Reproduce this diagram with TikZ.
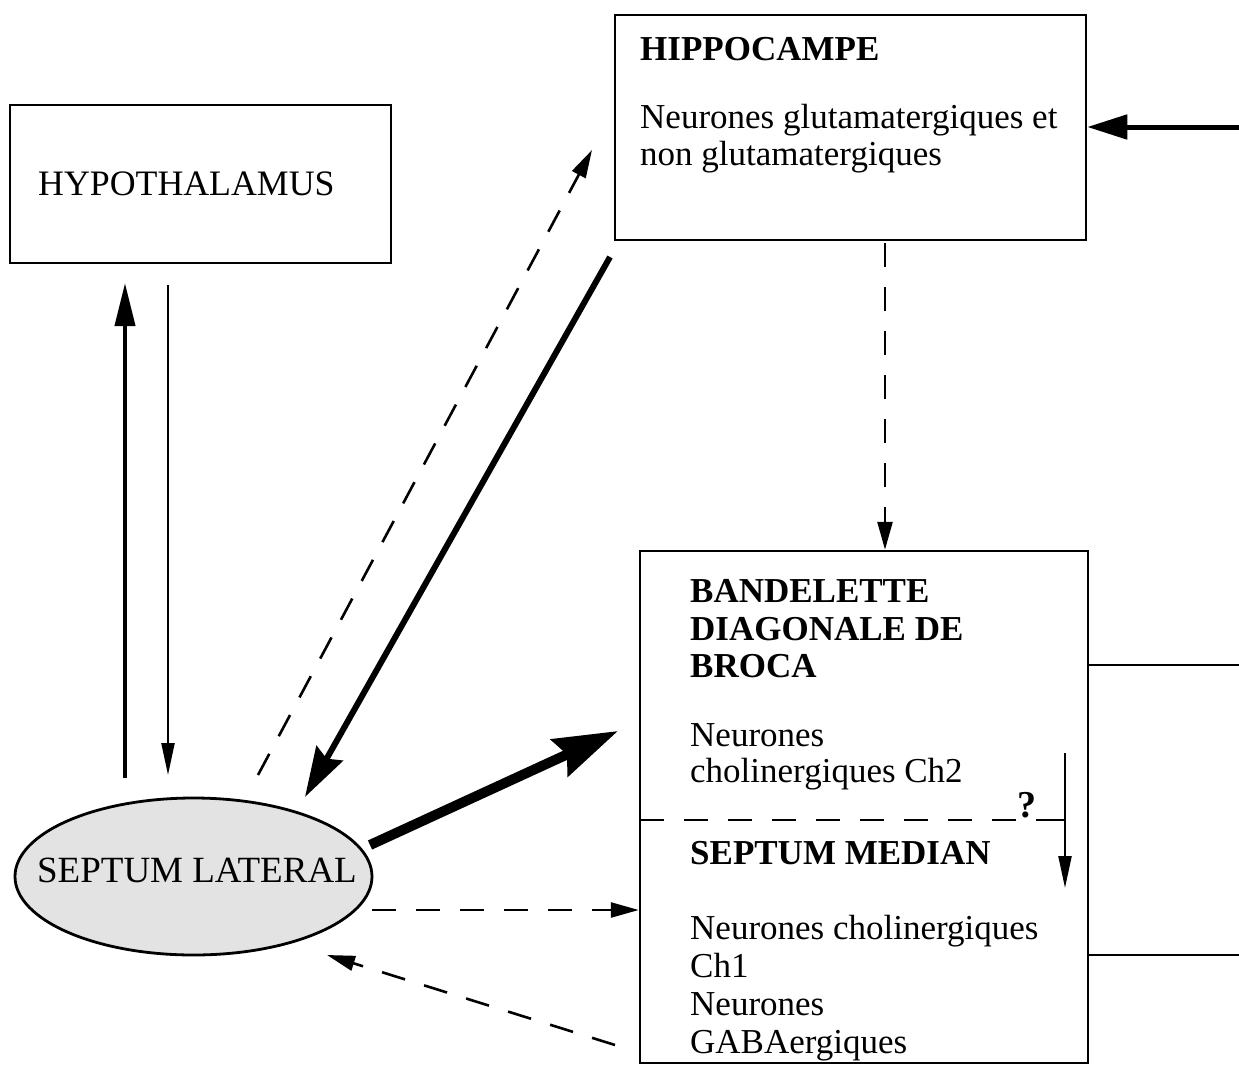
\documentclass[tikz,border=0pt]{standalone}
\usepackage{fontspec}
\setmainfont{Liberation Serif}
\usetikzlibrary{arrows.meta,shapes.geometric,calc}
\begin{document}
\begin{tikzpicture}[x=1pt,y=-1pt,
  box/.style={draw, line width=2.5pt, inner sep=0pt},
  lbl/.style={anchor=base west, inner sep=0pt, font=\fontsize{35}{37.5}\selectfont},
  blbl/.style={anchor=base west, inner sep=0pt, font=\fontsize{35}{37.5}\selectfont\bfseries},
  dsh/.style={line width=2.6pt, dash pattern=on 24pt off 20pt},
  dtip/.style={-{Triangle[length=28pt,width=15pt]}},
  thinarrow/.style={line width=2.2pt, -{Triangle[length=32pt,width=13pt]}},
  medarrow/.style={line width=4pt, -{Triangle[length=43pt,width=20pt]}},
  thickarrow/.style={line width=6pt, -{Stealth[length=50pt,width=30pt,inset=6pt]}},
  heavyarrow/.style={line width=10pt, -{Stealth[length=64pt,width=40pt,inset=8pt]}},
  plain/.style={line width=2.2pt}
]
\useasboundingbox (0,0) rectangle (1239,1065);

% boxes
\node[box, minimum width=381pt, minimum height=158pt] (hypo) at (200.5,184) {};
\node[box, minimum width=471pt, minimum height=225pt] (hipp) at (850.5,127.5) {};
\node[box, minimum width=448pt, minimum height=512pt] (bdb) at (864,807) {};
\node[draw, line width=2.8pt, ellipse, fill=gray!22, minimum width=357pt, minimum height=157pt, inner sep=0pt] (sl) at (193.5,876.5) {};

% texts
\node[lbl, font=\fontsize{35.8}{37.5}\selectfont] (thypo) at (38,195) {HYPOTHALAMUS};
\node[blbl] (thipp) at (640,60) {HIPPOCAMPE};
\node[lbl] (thipp1) at (640,128) {Neurones glutamatergiques et};
\node[lbl] (thipp2) at (640,165) {non glutamatergiques};
\node[blbl] (tb1) at (690,602) {BANDELETTE};
\node[blbl] (tb2) at (690,640) {DIAGONALE DE};
\node[blbl] (tb3) at (690,677) {BROCA};
\node[lbl] (tb4) at (690,746) {Neurones};
\node[lbl] (tb5) at (690,782) {cholinergiques Ch2};
\node[blbl] (tm1) at (690,864) {SEPTUM MEDIAN};
\node[lbl] (tm2) at (690,939) {Neurones cholinergiques};
\node[lbl] (tm3) at (690,977) {Ch1};
\node[lbl] (tm4) at (690,1015) {Neurones};
\node[lbl] (tm5) at (690,1053) {GABAergiques};
\node[inner sep=0pt, font=\fontsize{37}{37.5}\selectfont] (tsl) at (197,870) {SEPTUM LATERAL};

% separator inside the big box
\coordinate (sepL) at (640,820);
\coordinate (sepR) at (1065,820);
\draw[dsh] (sepL) -- (sepR);
\node[fill=white, inner sep=1pt, anchor=base, font=\fontsize{38}{37.5}\selectfont\bfseries] (q) at (1027,817) {?};
\draw[plain] (q.east |- sepR) -- (sepR);

% down arrow at right of the separator
\coordinate (dA) at (1065,753);
\coordinate (dB) at (1065,888);
\draw[thinarrow] (dA) -- (dB);

% hypothalamus arrows
\coordinate (hu1) at (125,778);
\coordinate (hu2) at (125,283);
\draw[medarrow] (hu1) -- (hu2);
\coordinate (hd1) at (168,285);
\coordinate (hd2) at (168,775);
\draw[thinarrow] (hd1) -- (hd2);

% septum lateral -> hippocampe (dashed)
\coordinate (s1) at (258,775);
\coordinate (s2) at (592,150);
\draw[dsh, dtip] (s1) -- (s2);

% hippocampe -> septum lateral (thick)
\coordinate (h1) at (610,257);
\coordinate (h2) at (305,797);
\draw[thickarrow] (h1) -- (h2);

% septum lateral -> bdb (heavy)
\coordinate (b1) at (370,845);
\coordinate (b2) at (618,731);
\draw[heavyarrow] (b1) -- (b2);

% septum lateral -> septum median (dashed)
\coordinate (m1) at (372,910);
\draw[dsh, dtip] (m1) -- (m1 -| bdb.west);

% septum median -> septum lateral (dashed)
\coordinate (r1) at (615,1045);
\coordinate (r2) at (327,955);
\draw[dsh, dtip] (r1) -- (r2);

% hippocampe -> bdb (dashed vertical)
\coordinate (v1) at (885,243);
\draw[dsh, dtip] (v1) -- (v1 |- bdb.north);

% right side connectors
\coordinate (e1) at (1239,127);
\draw[line width=5pt, -{Triangle[length=40pt,width=24pt]}] (e1) -- (e1 -| hipp.east);
\coordinate (e2) at (1239,665);
\draw[plain] (e2 -| bdb.east) -- (e2);
\coordinate (e3) at (1239,955);
\draw[plain] (e3 -| bdb.east) -- (e3);
\end{tikzpicture}
\end{document}
